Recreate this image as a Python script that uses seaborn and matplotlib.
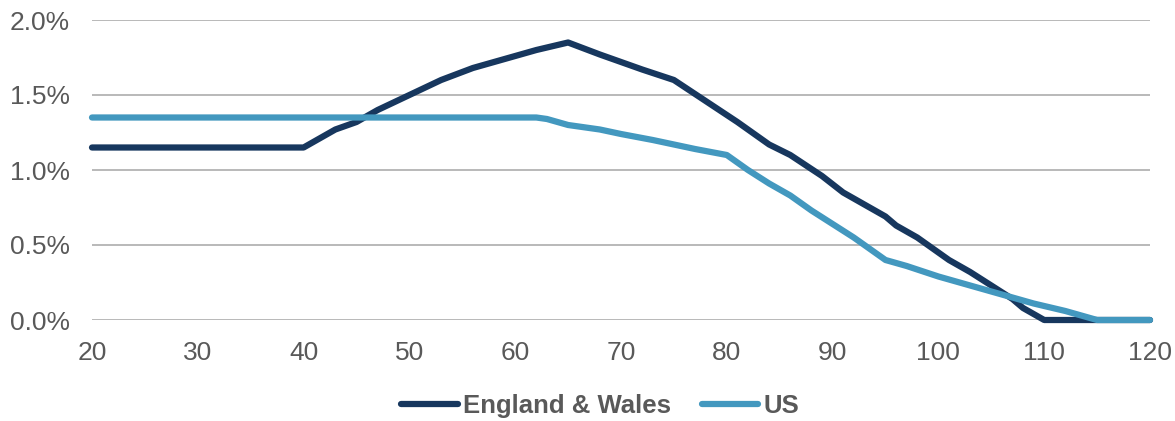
import matplotlib.pyplot as plt
import pandas as pd
import seaborn as sns
from matplotlib.ticker import FuncFormatter

# England & Wales curve (age, % per year)
ew_age = [20, 40, 43, 45, 47, 50, 53, 56, 58, 60, 62, 65, 68, 72, 75, 78, 81, 84, 86, 89,
          91, 93, 95, 96, 98, 101, 103, 105, 107, 108, 110, 120]
ew_val = [1.15, 1.15, 1.27, 1.32, 1.40, 1.50, 1.60, 1.68, 1.72, 1.76, 1.80, 1.85, 1.77, 1.67,
          1.60, 1.46, 1.32, 1.17, 1.10, 0.96, 0.85, 0.77, 0.69, 0.63, 0.55, 0.40, 0.32, 0.23,
          0.14, 0.08, 0.00, 0.00]

# US curve
us_age = [20, 62, 63, 65, 68, 70, 73, 75, 77, 80, 82, 84, 86, 88, 90, 92, 95, 97, 100, 103,
          106, 109, 112, 115, 120]
us_val = [1.35, 1.35, 1.34, 1.30, 1.27, 1.24, 1.20, 1.17, 1.14, 1.10, 1.00, 0.91, 0.83, 0.73,
          0.64, 0.55, 0.40, 0.36, 0.29, 0.23, 0.17, 0.11, 0.06, 0.00, 0.00]

series_names = ['England & Wales', 'US']
colors = ['#17375e', '#4398bf']
x_ticks = [20, 30, 40, 50, 60, 70, 80, 90, 100, 110, 120]
y_ticks = [0.0, 0.5, 1.0, 1.5, 2.0]

df = pd.concat([
    pd.DataFrame({'age': ew_age, 'value': ew_val, 'series': series_names[0]}),
    pd.DataFrame({'age': us_age, 'value': us_val, 'series': series_names[1]}),
])

sns.set_style('white')
plt.rcParams['font.family'] = ['Liberation Sans', 'DejaVu Sans']
text_color = '#595959'

fig = plt.figure(figsize=(11.75, 4.21), dpi=100)
ax = fig.add_axes([92 / 1175, 1 - 320 / 421, (1150 - 92) / 1175, 300 / 421])

sns.lineplot(data=df, x='age', y='value', hue='series', palette=colors,
             hue_order=series_names, sort=False, estimator=None,
             linewidth=4.5, ax=ax, legend=False, clip_on=False)

ax.set_xlim(20, 120)
ax.set_ylim(0, 2.0)
ax.set_xticks(x_ticks)
ax.set_yticks(y_ticks)
ax.yaxis.set_major_formatter(FuncFormatter(lambda v, p: f'{v:.1f}%'))
ax.set_xlabel('')
ax.set_ylabel('')

for s in ax.spines.values():
    s.set_visible(False)
ax.grid(axis='y', color='#a6a6a6', linewidth=1.1)
ax.set_axisbelow(True)
ax.tick_params(axis='both', length=0, labelsize=19, labelcolor=text_color)
ax.tick_params(axis='y', pad=16)
ax.tick_params(axis='x', pad=15)

handles = [plt.Line2D([], [], color=c, linewidth=4.5) for c in colors]
leg = fig.legend(handles, series_names, loc='center', bbox_to_anchor=(600 / 1175, 1 - 406 / 421),
                 ncol=2, frameon=False, handlelength=2.2, handletextpad=0.2,
                 columnspacing=1.2, prop={'size': 18.5, 'weight': 'bold'})
for t in leg.get_texts():
    t.set_color(text_color)

fig.savefig('out.png', dpi=100)
